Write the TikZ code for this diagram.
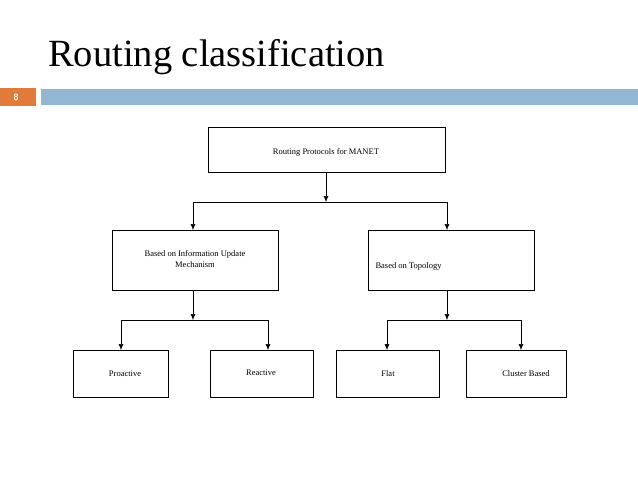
\documentclass[tikz,border=0pt]{standalone}
\usepackage{fontspec}
\setmainfont{Liberation Serif}
\usetikzlibrary{arrows.meta}
\definecolor{bar}{HTML}{93B6D3}
\definecolor{org}{HTML}{E07B3C}
\begin{document}
\begin{tikzpicture}[x=1pt,y=-1pt,
  box/.style={draw,line width=0.8pt,anchor=north west,inner sep=0pt,font=\fontsize{8.5}{10}\selectfont},
  arr/.style={-{Latex[length=6pt,width=5pt]},line width=0.6pt},
  ln/.style={line width=0.6pt}]
\useasboundingbox (0,0) rectangle (638,479);
\fill[org] (0,88) rectangle (36,106);
\node[text=white,font=\sffamily\bfseries\fontsize{9}{10}\selectfont] (num) at (16,97) {8};
\fill[bar] (41,89) rectangle (638,105);
\node[anchor=base west,font=\fontsize{38.5}{44}\selectfont,inner sep=0pt] (title) at (48,66) {Routing classification};
\node[box,minimum width=237pt,minimum height=45pt] (top) at (208,127) {};
\node (topt) at (326,152) {\fontsize{8.5}{10}\selectfont Routing Protocols for MANET};
\node[box,minimum width=166pt,minimum height=60pt] (l) at (112,230) {};
\node[align=center,font=\fontsize{8.5}{11}\selectfont] (lt) at (195,259) {Based on Information Update\\Mechanism};
\node[box,minimum width=166pt,minimum height=60pt] (r) at (368,230) {};
\node[anchor=west,font=\fontsize{8.5}{10}\selectfont] (rt) at (372,266) {Based on Topology};
\node[box,minimum width=95pt,minimum height=47pt] (p) at (73,350) {};
\node[font=\fontsize{8.5}{10}\selectfont] (pt) at (125,374) {Proactive};
\node[box,minimum width=103pt,minimum height=47pt] (re) at (210,350) {};
\node[font=\fontsize{8.5}{10}\selectfont] (ret) at (261,373) {Reactive};
\node[box,minimum width=103pt,minimum height=47pt] (f) at (336,350) {};
\node[font=\fontsize{8.5}{10}\selectfont] (ft) at (388,374) {Flat};
\node[box,minimum width=100pt,minimum height=47pt] (c) at (466,350) {};
\node[font=\fontsize{8.5}{10}\selectfont] (ct) at (526,374) {Cluster Based};
\coordinate (j1) at (326,202);
\coordinate (j2) at (193,320);
\coordinate (j3) at (447,320);
\draw[arr] (top.south -| j1) -- (j1);
\draw[ln] (193,202) -- (447,202);
\draw[arr] (193,202) -- (193,230);
\draw[arr] (447,202) -- (447,230);
\draw[arr] (l.south -| j2) -- (j2);
\draw[ln] (121,320) -- (268,320);
\draw[arr] (121,320) -- (121,350);
\draw[arr] (268,320) -- (268,350);
\draw[arr] (r.south -| j3) -- (j3);
\draw[ln] (387,320) -- (521,320);
\draw[arr] (387,320) -- (387,350);
\draw[arr] (521,320) -- (521,350);
\end{tikzpicture}
\end{document}
